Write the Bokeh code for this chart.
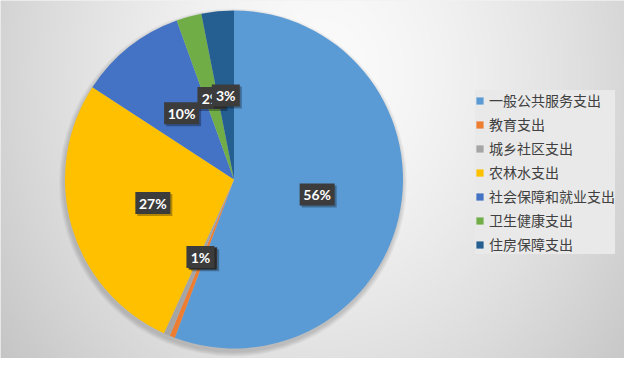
import numpy as np
from bokeh.plotting import figure
from bokeh.models import ColumnDataSource, Range1d, Legend, LegendItem
from bokeh.embed import file_html
from bokeh.resources import INLINE
from bokeh.core.properties import value

categories = ["一般公共服务支出", "教育支出", "城乡社区支出", "农林水支出",
              "社会保障和就业支出", "卫生健康支出", "住房保障支出"]
shares = [55.7, 0.5, 0.6, 27.4, 10.3, 2.4, 3.1]
colors = ["#5B9BD5", "#ED7D31", "#A5A5A5", "#FFC000", "#4472C4", "#70AD47", "#255E91"]

W, H = 624, 358
CX, CY, R = 233.5, 179.0, 169.0

p = figure(width=W, height=H, x_range=Range1d(0, W), y_range=Range1d(0, H),
           output_backend="svg", toolbar_location=None, min_border=0)
p.axis.visible = False
p.grid.visible = False
p.outline_line_color = None
p.background_fill_color = "#e6e6e6"
p.border_fill_color = "#e6e6e6"

# background radial gradient
nx, ny = 312, 179
xs = (np.arange(nx) + 0.5) * W / nx
ys = (np.arange(ny) + 0.5) * H / ny
X, Y = np.meshgrid(xs, ys)
sx = X + 8
sy = 8 + H - Y
d = np.sqrt(((sx - 330) / 340) ** 2 + ((sy - 80) / 400) ** 2)
g = np.clip(251 - 42 * np.clip(d, 0, 1.2) ** 1.5, 0, 255).astype(np.uint8)
img = np.empty((ny, nx), dtype=np.uint32)
view = img.view(dtype=np.uint8).reshape((ny, nx, 4))
view[..., 0] = g
view[..., 1] = g
view[..., 2] = g
view[..., 3] = 255
p.image_rgba(image=[img], x=0, y=0, dw=W, dh=H)

# soft shadow under pie
for k in range(1, 6):
    p.circle(x=CX - 1, y=CY - 3, radius=R + k, fill_color="black",
             fill_alpha=0.035, line_color=None)

total = float(sum(shares))
frac = np.array(shares) / total
cum = np.concatenate([[0.0], np.cumsum(frac)])
start = np.pi / 2 - 2 * np.pi * cum[:-1]
end = np.pi / 2 - 2 * np.pi * cum[1:]

src = ColumnDataSource(dict(cat=categories, start=start, end=end, color=colors))
r = p.wedge(x=CX, y=CY, radius=R, start_angle="start", end_angle="end",
            direction="clock", fill_color="color", line_color=None, source=src)

# data labels
mid = (cum[:-1] + cum[1:]) / 2
ang = np.pi / 2 - 2 * np.pi * mid
lx = CX + 0.5 * R * np.cos(ang)
ly = CY + 0.5 * R * np.sin(ang)
for i, s in enumerate(shares):
    txt = f"{int(s / total * 100 + 0.5)}%"
    bw = 7 * len(txt) + 14
    ls = ColumnDataSource(dict(x=[lx[i]], y=[ly[i]], t=[txt]))
    p.rect(x=lx[i] + 2, y=ly[i] - 2, width=bw, height=22, width_units="screen",
           height_units="screen", fill_color="black", fill_alpha=0.3, line_color=None)
    p.rect(x=lx[i], y=ly[i], width=bw, height=22, width_units="screen",
           height_units="screen", fill_color="#3c3c3c", line_color=None)
    p.text(x="x", y="y", text="t", source=ls, text_align="center",
           text_baseline="middle", text_color="white", text_font=value("Lato"),
           text_font_style="bold", text_font_size="14px")

legend = Legend(
    items=[LegendItem(label=c, renderers=[r], index=i) for i, c in enumerate(categories)],
    location=(475, 104), orientation="vertical",
    label_text_font="Noto Sans CJK SC", label_text_font_size="14px",
    label_text_color="#404040", glyph_width=9, glyph_height=9,
    label_height=17, spacing=4, padding=4, margin=0, label_standoff=5,
    background_fill_color="#e9e9e9", background_fill_alpha=1.0,
    border_line_color=None)
p.add_layout(legend)

open("out.html", "w").write(file_html(p, INLINE))
